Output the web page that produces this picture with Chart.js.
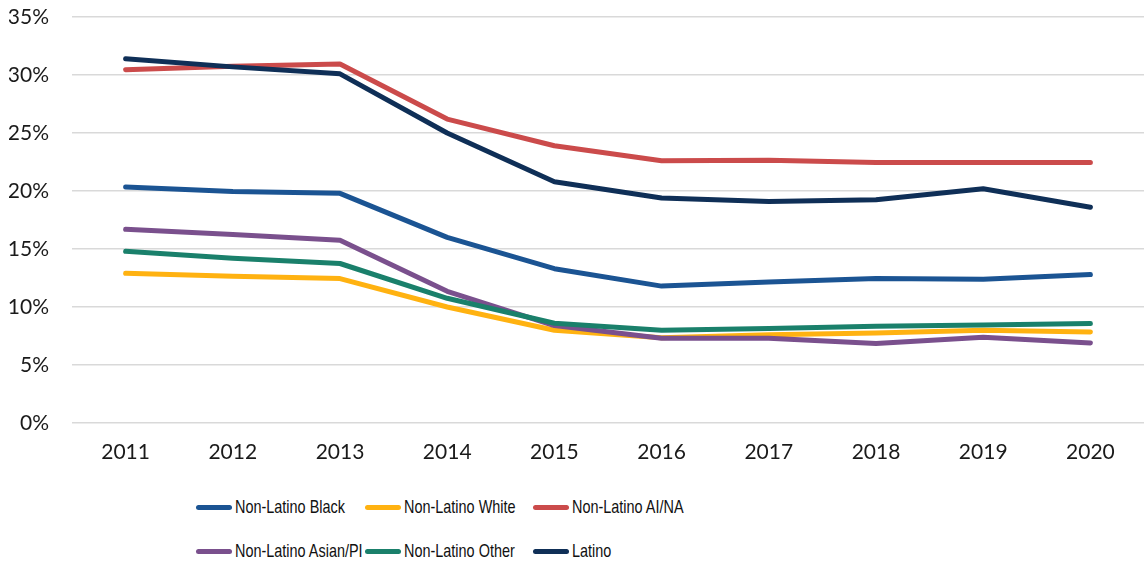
<!DOCTYPE html>
<html>
<head>
<meta charset="utf-8">
<script src="https://cdn.jsdelivr.net/npm/chart.js@4"></script>
<style>
  body { margin: 0; background: #fff; }
  #wrap { position: relative; width: 1144px; height: 565px; }
  #chartBox { position: absolute; left: 0; top: 0; width: 1144px; height: 468px; }
  #legend {
    position: absolute; left: 196px; top: 493px;
    display: grid; grid-template-columns: 169px 168px 200px; row-gap: 16px;
    font-family: "Liberation Sans", sans-serif;
    font-size: 19px; color: #111;
  }
  .item { display: flex; align-items: center; height: 28px; white-space: nowrap; }
  .swatch { flex: 0 0 36px; height: 5px; border-radius: 3px; margin-right: 3px; }
  .txt { display: inline-block; transform: scaleX(0.76); transform-origin: left center; }
</style>
</head>
<body>
<div id="wrap">
  <div id="chartBox"><canvas id="myChart"></canvas></div>
  <div id="legend"></div>
</div>
<script>
const years = ['2011', '2012', '2013', '2014', '2015', '2016', '2017', '2018', '2019', '2020'];

const seriesNames = [
    'Non-Latino Black',
    'Non-Latino White',
    'Non-Latino AI/NA',
    'Non-Latino Asian/PI',
    'Non-Latino Other',
    'Latino',
];

const black  = [20.35, 19.95, 19.8, 16.0, 13.3, 11.8, 12.15, 12.45, 12.4, 12.8];
const white  = [12.9, 12.65, 12.45, 10.0, 8.0, 7.35, 7.6, 7.75, 8.0, 7.85];
const aina   = [30.45, 30.75, 30.95, 26.2, 23.9, 22.6, 22.65, 22.45, 22.45, 22.45];
const asian  = [16.7, 16.25, 15.75, 11.35, 8.4, 7.3, 7.3, 6.85, 7.4, 6.9];
const other  = [14.8, 14.2, 13.75, 10.75, 8.6, 8.0, 8.15, 8.35, 8.45, 8.57];
const latino = [31.4, 30.7, 30.1, 25.0, 20.8, 19.4, 19.1, 19.25, 20.2, 18.6];

const colors = ['#1b5493', '#ffb211', '#cb4b4b', '#7a508d', '#1a806b', '#0f2f57'];

const allValues = [black, white, aina, asian, other, latino];

const datasets = seriesNames.map(function(name, i) {
    return {
        label: name,
        data: allValues[i],
        borderColor: colors[i],
        backgroundColor: colors[i],
        borderWidth: 5,
        borderCapStyle: 'round',
        borderJoinStyle: 'round',
        pointRadius: 0,
        tension: 0,
        order: seriesNames.length - i   // later series on top, like the original
    };
});

const tickFont = { family: 'Lato, "Open Sans", sans-serif', size: 21 };

new Chart(document.getElementById('myChart'), {
    type: 'line',
    data: { labels: years, datasets: datasets },
    options: {
        responsive: true,
        maintainAspectRatio: false,
        animation: false,
        layout: { padding: { left: 9, right: 0, top: 0, bottom: 3 } },
        plugins: {
            legend: { display: false },
            tooltip: { enabled: false }
        },
        scales: {
            x: {
                offset: true,
                grid: { display: false, drawTicks: false },
                border: { display: false },
                ticks: { font: tickFont, color: '#1a1a1a', padding: 17, maxRotation: 0 },
                afterFit: function(scale) {
                    scale.height = 42;
                    scale.paddingLeft = 0;
                    scale.paddingRight = 0;
                }
            },
            y: {
                min: 0,
                max: 35,
                grid: { color: '#d9d9d9', lineWidth: 1.5, drawTicks: false },
                border: { display: false },
                ticks: {
                    stepSize: 5,
                    font: tickFont,
                    color: '#1a1a1a',
                    padding: 23,
                    callback: function(v) { return v + '%'; }
                },
                afterFit: function(scale) {
                    // keep the tick padding from pushing the plot down / right
                    scale.width = 63;
                    scale.paddingTop = 17;
                    scale.paddingBottom = 12;
                }
            }
        }
    }
});

// legend laid out in three columns, as in the original
const legendEl = document.getElementById('legend');
seriesNames.forEach(function(name, i) {
    const item = document.createElement('div');
    item.className = 'item';
    const sw = document.createElement('span');
    sw.className = 'swatch';
    sw.style.background = colors[i];
    const txt = document.createElement('span');
    txt.className = 'txt';
    txt.textContent = name;
    item.appendChild(sw);
    item.appendChild(txt);
    legendEl.appendChild(item);
});
</script>
</body>
</html>
